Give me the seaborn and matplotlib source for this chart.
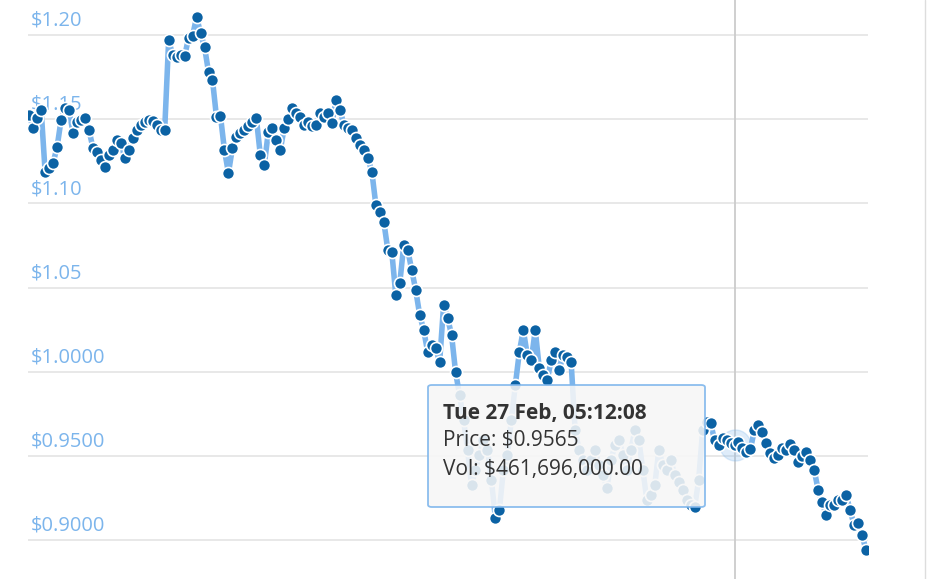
import numpy as np
import pandas as pd
import matplotlib.pyplot as plt
import seaborn as sns
from matplotlib.patches import FancyBboxPatch
sns.set_style('white')
plt.rcParams['font.family'] = ['Open Sans', 'DejaVu Sans']

# price series
price = [1.1525, 1.1448, 1.1507, 1.1555, 1.1186, 1.121, 1.124, 1.1335, 1.1495, 1.1567,
         1.1555, 1.1418, 1.1483, 1.1495, 1.1507, 1.1436, 1.1329, 1.1305, 1.1258, 1.1216,
         1.1287, 1.1317, 1.1376, 1.1359, 1.127, 1.1317, 1.1388, 1.1436, 1.1465, 1.1483,
         1.1495, 1.1489, 1.1465, 1.1436, 1.1436, 1.197, 1.188, 1.187, 1.188, 1.1875,
         1.1982, 1.1994, 1.2107, 1.2012, 1.1929, 1.178, 1.1733, 1.1513, 1.1519, 1.1317,
         1.118, 1.1329, 1.1394, 1.1418, 1.1436, 1.146, 1.1483, 1.1507, 1.1287, 1.1228,
         1.1424, 1.1448, 1.1376, 1.1317, 1.1448, 1.1501, 1.1567, 1.1537, 1.1513, 1.1465,
         1.1483, 1.146, 1.1465, 1.1537, 1.1513, 1.1537, 1.1477, 1.1614, 1.1555, 1.1465,
         1.1448, 1.1436, 1.1388, 1.1347, 1.1317, 1.127, 1.1186, 1.099, 1.0949, 1.0889,
         1.0723, 1.0711, 1.0456, 1.0527, 1.0753, 1.0723, 1.0604, 1.0485, 1.0337, 1.0248,
         1.0117, 1.0159, 1.0141, 1.0058, 1.0396, 1.0319, 1.0218, 0.9998, 0.9862, 0.9713,
         0.9535, 0.9327, 0.9416, 0.9505, 0.9594, 0.9535, 0.9357, 0.913, 0.9179, 0.9416,
         0.9505, 0.9713, 0.9921, 1.0117, 1.0248, 1.0099, 1.0069, 1.0248, 1.0022, 0.998,
         0.995, 1.0069, 1.0117, 1.001, 1.0099, 1.0087, 1.0058, 0.9654, 0.9535, 0.9476,
         0.9416, 0.9476, 0.9535, 0.9446, 0.9387, 0.931, 0.9476, 0.9565, 0.9594, 0.9505,
         0.9416, 0.9535, 0.9654, 0.9594, 0.9416, 0.9238, 0.9268, 0.9327, 0.9535, 0.9446,
         0.9416, 0.9476, 0.9387, 0.9345, 0.9297, 0.9238, 0.9208, 0.9196, 0.9357, 0.9654,
         0.9701, 0.9695, 0.9594, 0.9565, 0.9606, 0.9594, 0.9576, 0.9565, 0.9582, 0.9547,
         0.9523, 0.9541, 0.9654, 0.9684, 0.9642, 0.9576, 0.9517, 0.9487, 0.9505, 0.9547,
         0.9535, 0.9571, 0.9535, 0.9464, 0.95, 0.9523, 0.9476, 0.9416, 0.9297, 0.9226,
         0.9149, 0.9208, 0.9208, 0.9238, 0.9238, 0.9268, 0.9179, 0.909, 0.9101, 0.903,
         0.8941]
ticks = [0.90, 0.95, 1.00, 1.05, 1.10, 1.15, 1.20]
tick_labels = ['$0.9000', '$0.9500', '$1.0000', '$1.05', '$1.10', '$1.15', '$1.20']
hover_idx = 177
tip_lines = ['Tue 27 Feb, 05:12:08', 'Price: $0.9565', 'Vol: $461,696,000.00']

df = pd.DataFrame({'i': np.arange(len(price)), 'price': price})

fig = plt.figure(figsize=(9.39, 5.79), dpi=100)
ax = fig.add_axes([28 / 939, 0, 840 / 939, 1])
ax.set_ylim(0.8769, 1.2208)
ax.set_xlim(-0.3, len(price) - 0.5)
for t in ticks:
    ax.axhline(t, color='#e6e6e6', lw=1.3, zorder=0)
sns.lineplot(data=df, x='i', y='price', ax=ax, color='#7cb5ec', lw=4, zorder=2)
sns.scatterplot(data=df, x='i', y='price', ax=ax, color='#0b62a4', s=75,
                edgecolor='white', linewidth=1.2, zorder=3)
ax.axvline(hover_idx, color='#cccccc', lw=1.3, zorder=1)
ax.scatter([hover_idx], [0.9565], s=500, color='#7cb5ec', alpha=0.25, zorder=2)
for t, lab in zip(ticks, tick_labels):
    ax.text(0.3, t + 0.0025, lab, color='#7cb5ec', fontsize=14.5, va='bottom', zorder=1)
ax.set_axis_off()
ax.set_xlabel('')
ax.set_ylabel('')

# right edge line
fig.add_artist(plt.Line2D([925 / 939, 925 / 939], [0, 1], color='#dddddd', lw=1))

# tooltip
box = FancyBboxPatch((428 / 939, 1 - 507 / 579), 277 / 939, 122 / 579,
                     boxstyle='round,pad=0,rounding_size=0.004', transform=fig.transFigure,
                     facecolor='#f7f7f7', edgecolor='#7cb5ec', lw=1.3, alpha=0.88, zorder=10)
fig.add_artist(box)
fig.text(443 / 939, 1 - 413 / 579, tip_lines[0], fontsize=15, fontweight='bold',
         color='#333333', va='center', zorder=11)
fig.text(443 / 939, 1 - 441 / 579, tip_lines[1], fontsize=15, color='#333333',
         va='center', zorder=11)
fig.text(443 / 939, 1 - 469 / 579, tip_lines[2], fontsize=15, color='#333333',
         va='center', zorder=11)

fig.savefig('out.png', dpi=100)
